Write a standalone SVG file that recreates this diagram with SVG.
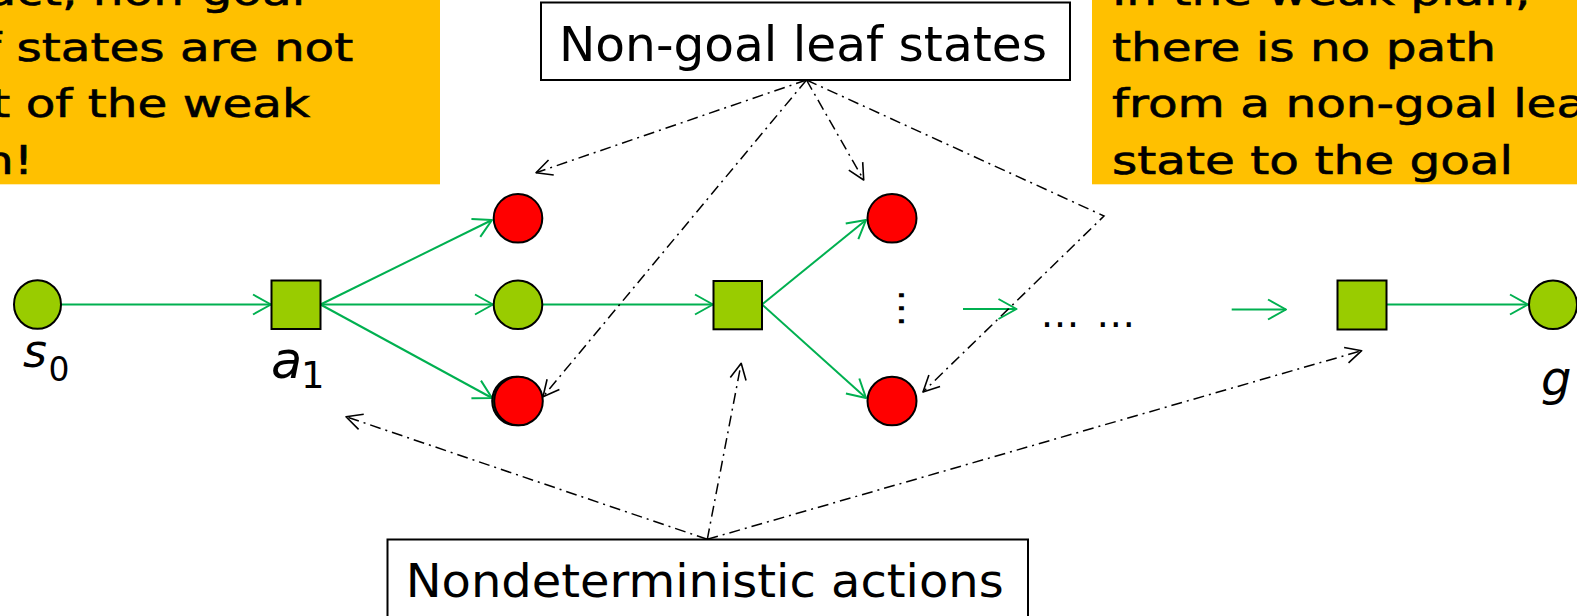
<svg xmlns="http://www.w3.org/2000/svg" width="1577" height="616" viewBox="0 0 1577 616">
  <defs>
    <style>
      .t { font-family: "DejaVu Sans", "Liberation Sans", sans-serif; fill: #000; }
      .nt { stroke: #000; stroke-width: 0.6; }
      .note { fill: #FFC000; }
      .box { fill: #fff; stroke: #000; stroke-width: 2; }
      .ok { fill: #99CC00; stroke: #000; stroke-width: 2; }
      .bad { fill: #FF0000; stroke: #000; stroke-width: 2; }
      .edge { fill: none; stroke: #00B050; stroke-width: 2; marker-end: url(#greenHead); }
      .call { fill: none; stroke: #000; stroke-width: 1.5; stroke-dasharray: 11 5 2 5; marker-end: url(#blackHead); }
    </style>
    <marker id="greenHead" markerUnits="userSpaceOnUse" viewBox="-2 -12 22 24" markerWidth="22" markerHeight="24" refX="18" refY="0" orient="auto">
      <path d="M0,-10 L18,0 L0,10" fill="none" stroke="#00B050" stroke-width="2" stroke-linejoin="round"/>
    </marker>
    <marker id="blackHead" markerUnits="userSpaceOnUse" viewBox="-2 -10 20 20" markerWidth="20" markerHeight="20" refX="16" refY="0" orient="auto">
      <path d="M0,-8 L16,0 L0,8" fill="none" stroke="#000" stroke-width="1.6" stroke-linejoin="round"/>
    </marker>
  </defs>

  <rect width="1577" height="616" fill="#fff"/>

  <!-- explanatory notes -->
  <g id="note-left">
    <rect class="note" x="-111" y="-20" width="551" height="204.3"/>
    <text class="t nt" font-size="39" transform="matrix(1.244 0 0 1 -13.4 4.5)">act, non-goal</text>
    <text class="t nt" font-size="39" transform="matrix(1.244 0 0 1 -16 61)">f states are not</text>
    <text class="t nt" font-size="39" transform="matrix(1.244 0 0 1 -8.8 117.3)">t of the weak</text>
    <text class="t nt" font-size="39" transform="matrix(1.244 0 0 1 -17 174)">n!</text>
  </g>
  <g id="note-right">
    <rect class="note" x="1092" y="-20" width="500" height="204.3"/>
    <text class="t nt" font-size="39" transform="matrix(1.244 0 0 1 1112 4.5)">In the weak plan,</text>
    <text class="t nt" font-size="39" transform="matrix(1.244 0 0 1 1112 61)">there is no path</text>
    <text class="t nt" font-size="39" transform="matrix(1.244 0 0 1 1112 117.3)">from a non-goal lea</text>
    <text class="t nt" font-size="39" transform="matrix(1.244 0 0 1 1112 174)">state to the goal</text>
  </g>

  <!-- callout boxes -->
  <g id="label-leaves">
    <rect class="box" x="541" y="2.5" width="529" height="77.5"/>
    <text class="t" font-size="48" x="559" y="61" textLength="488" lengthAdjust="spacingAndGlyphs">Non-goal leaf states</text>
  </g>
  <g id="label-actions">
    <rect class="box" x="387.5" y="539.5" width="640.5" height="100"/>
    <text class="t" font-size="47" x="405.7" y="597.3" textLength="598" lengthAdjust="spacingAndGlyphs">Nondeterministic actions</text>
  </g>

  <!-- plan edges and callout pointers -->
  <g id="connectors">
    <line class="edge" x1="61" y1="304.5" x2="271" y2="304.5"/>
    <line class="edge" x1="320.5" y1="304.5" x2="492" y2="220"/>
    <line class="edge" x1="320.5" y1="304.5" x2="493" y2="304.5"/>
    <line class="edge" x1="320.5" y1="304.5" x2="492" y2="398"/>
    <line class="edge" x1="542.5" y1="304.5" x2="713" y2="304.5"/>
    <line class="edge" x1="762" y1="304.5" x2="866" y2="220"/>
    <line class="edge" x1="762" y1="304.5" x2="866" y2="398"/>
    <line class="edge" x1="963" y1="309" x2="1016.5" y2="309"/>
    <line class="edge" x1="1231.7" y1="309.5" x2="1286" y2="309.5"/>
    <line class="edge" x1="1386.5" y1="304.5" x2="1528" y2="304.5"/>

    <line class="call" x1="806.5" y1="80" x2="536" y2="172.7"/>
    <line class="call" x1="806.5" y1="80" x2="543" y2="396.7"/>
    <line class="call" x1="806.5" y1="80" x2="863.7" y2="180"/>
    <polyline class="call" points="806.5,80 1104,216 923,392"/>
    <line class="call" x1="707.3" y1="539.3" x2="346" y2="416.7"/>
    <line class="call" x1="707.3" y1="539.3" x2="741.2" y2="363.3"/>
    <line class="call" x1="707.3" y1="539.3" x2="1361.7" y2="350.7"/>
  </g>

  <!-- states and actions -->
  <g id="s0">
    <ellipse class="ok" cx="37.5" cy="304.5" rx="23.5" ry="24.3"/>
    <text class="t" font-size="46" font-style="italic" x="23" y="367">s</text>
    <text class="t" font-size="33" x="48.6" y="380.7">0</text>
  </g>
  <g id="a1">
    <rect class="ok" x="271.5" y="280.5" width="49" height="48.5"/>
    <text class="t" font-size="51" font-style="italic" x="271" y="378">a</text>
    <text class="t" font-size="37" x="301" y="388.3">1</text>
  </g>
  <g id="leaf-1">
    <ellipse class="bad" cx="518" cy="218.3" rx="24.3" ry="24.3"/>
  </g>
  <g id="s1">
    <ellipse class="ok" cx="518" cy="304.8" rx="24.3" ry="24.3"/>
  </g>
  <g id="leaf-2">
    <ellipse cx="516.5" cy="401" rx="24.3" ry="24.3" fill="#4d6600" stroke="#000" stroke-width="2"/>
    <ellipse class="bad" cx="518.5" cy="401" rx="24.3" ry="24.3"/>
  </g>
  <g id="a2">
    <rect class="ok" x="713.5" y="281" width="48.5" height="48.3"/>
  </g>
  <g id="leaf-3">
    <ellipse class="bad" cx="892" cy="218.3" rx="24.5" ry="24.3"/>
  </g>
  <g id="leaf-4">
    <ellipse class="bad" cx="892" cy="401" rx="24.5" ry="24.3"/>
  </g>
  <g id="more">
    <text class="t" font-size="39" transform="translate(898.5 288.7) rotate(90)">…</text>
    <text class="t" font-size="39" x="1040.5" y="327.3" word-spacing="4.4">… …</text>
  </g>
  <g id="an">
    <rect class="ok" x="1337.5" y="280.5" width="49" height="49"/>
  </g>
  <g id="g">
    <ellipse class="ok" cx="1553" cy="304.8" rx="24" ry="24.3"/>
    <text class="t" font-size="48" font-style="italic" x="1541" y="394.6">g</text>
  </g>
</svg>
